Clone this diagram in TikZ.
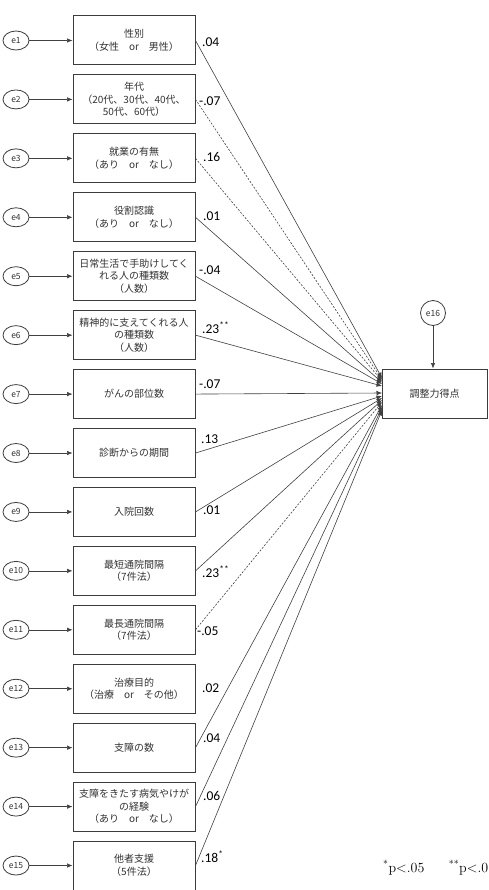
\documentclass[tikz,border=0pt]{standalone}
\usepackage{fontspec}
\newfontfamily\jp{Noto Sans CJK JP}
\newfontfamily\numfont{Carlito}
\usetikzlibrary{arrows.meta,shapes.geometric}
\definecolor{boxc}{HTML}{3C3C3C}
\definecolor{txtc}{HTML}{333333}
\definecolor{linec}{HTML}{404040}
\tikzset{
  varbox/.style={draw=boxc, line width=1pt, minimum width=122pt, minimum height=49pt,
    inner sep=0pt, align=center, text=txtc, font=\jp\fontsize{10}{12.6}\selectfont},
  errnode/.style={draw=boxc, line width=0.8pt, ellipse, minimum width=26pt, minimum height=19pt,
    inner sep=0pt, text=txtc, font=\jp\fontsize{8.5}{9}\selectfont},
  errcirc/.style={draw=boxc, line width=0.8pt, circle, minimum size=25pt,
    inner sep=0pt, text=txtc, font=\jp\fontsize{8.5}{9}\selectfont},
  conn/.style={draw=linec, line width=0.6pt, -{Latex[length=5.5pt,width=4.5pt]}},
  dconn/.style={conn, dash pattern=on 2pt off 1.5pt},
  coef/.style={anchor=west, inner sep=0pt, text=black, font=\numfont\fontsize{13.5}{15}\selectfont}
}
\begin{document}
\begin{tikzpicture}[x=1pt,y=-1pt]
\useasboundingbox (0,0) rectangle (488,890);
\foreach \i/\t in {
  1/{性別\\（女性　or　男性）},
  2/{年代\\（20代、30代、40代、\\50代、60代）},
  3/{就業の有無\\（あり　or　なし）},
  4/{役割認識\\（あり　or　なし）},
  5/{日常生活で手助けしてく\\れる人の種類数\\（人数）},
  6/{精神的に支えてくれる人\\の種類数\\（人数）},
  7/{がんの部位数},
  8/{診断からの期間},
  9/{入院回数},
  10/{最短通院間隔\\（7件法）},
  11/{最長通院間隔\\（7件法）},
  12/{治療目的\\（治療　or　その他）},
  13/{支障の数},
  14/{支障をきたす病気やけが\\の経験\\（あり　or　なし）},
  15/{他者支援\\（5件法）}}{
  \pgfmathsetmacro\yc{40.5+(\i-1)*58.93}
  \node[varbox] (b\i) at (134,\yc) {\t};
  \node[errnode] (e\i) at (16,\yc) {e\i};
  \draw[conn] (e\i) -- (b\i.west);
}
% target
\node[varbox, minimum width=105pt] (T) at (434.5,393.5) {調整力得点};
\node[errcirc] (e16) at (433,313) {e16};
\draw[conn] (e16) -- (e16 |- T.north);
% endpoints on the target
\foreach \i/\y in {1/378,2/379.5,3/381,4/382.5,5/384,6/386,7/393,8/396,9/398,10/400,11/402,13/405,14/407.5,15/410}{
  \coordinate (t\i) at (382,\y);
}
\foreach \i in {1,4,5,6,7,8,9,10,13,14,15}{
  \draw[conn] (b\i.east) -- (t\i);
}
\foreach \i in {2,3,11}{
  \draw[dconn] (b\i.east) -- (t\i);
}
% coefficients
\node[coef] (c1) at (202,42) {.04};
\node[coef] (c2) at (199,101) {-.07};
\node[coef] (c3) at (203,157) {.16};
\node[coef] (c4) at (203,216) {.01};
\node[coef] (c5) at (199,270) {-.04};
\node[coef] (c6) at (202,328) {.23\textsuperscript{**}};
\node[coef] (c7) at (199,384) {-.07};
\node[coef] (c8) at (201,439) {.13};
\node[coef] (c9) at (203,510) {.01};
\node[coef] (c10) at (202,572) {.23\textsuperscript{**}};
\node[coef] (c11) at (197,631) {-.05};
\node[coef] (c12) at (202,688) {.02};
\node[coef] (c13) at (203,738) {.04};
\node[coef] (c14) at (203,796) {.06};
\node[coef] (c15) at (201,857) {.18\textsuperscript{*}};
% footnote
\begin{scope}
\clip (0,0) rectangle (488,890);
\node[anchor=west, inner sep=0pt, font=\fontsize{14}{16}\selectfont] (fn) at (383,868)
  {\textsuperscript{*}p<.05\hspace{1.75em}\textsuperscript{**}p<.01};
\end{scope}
\end{tikzpicture}
\end{document}
